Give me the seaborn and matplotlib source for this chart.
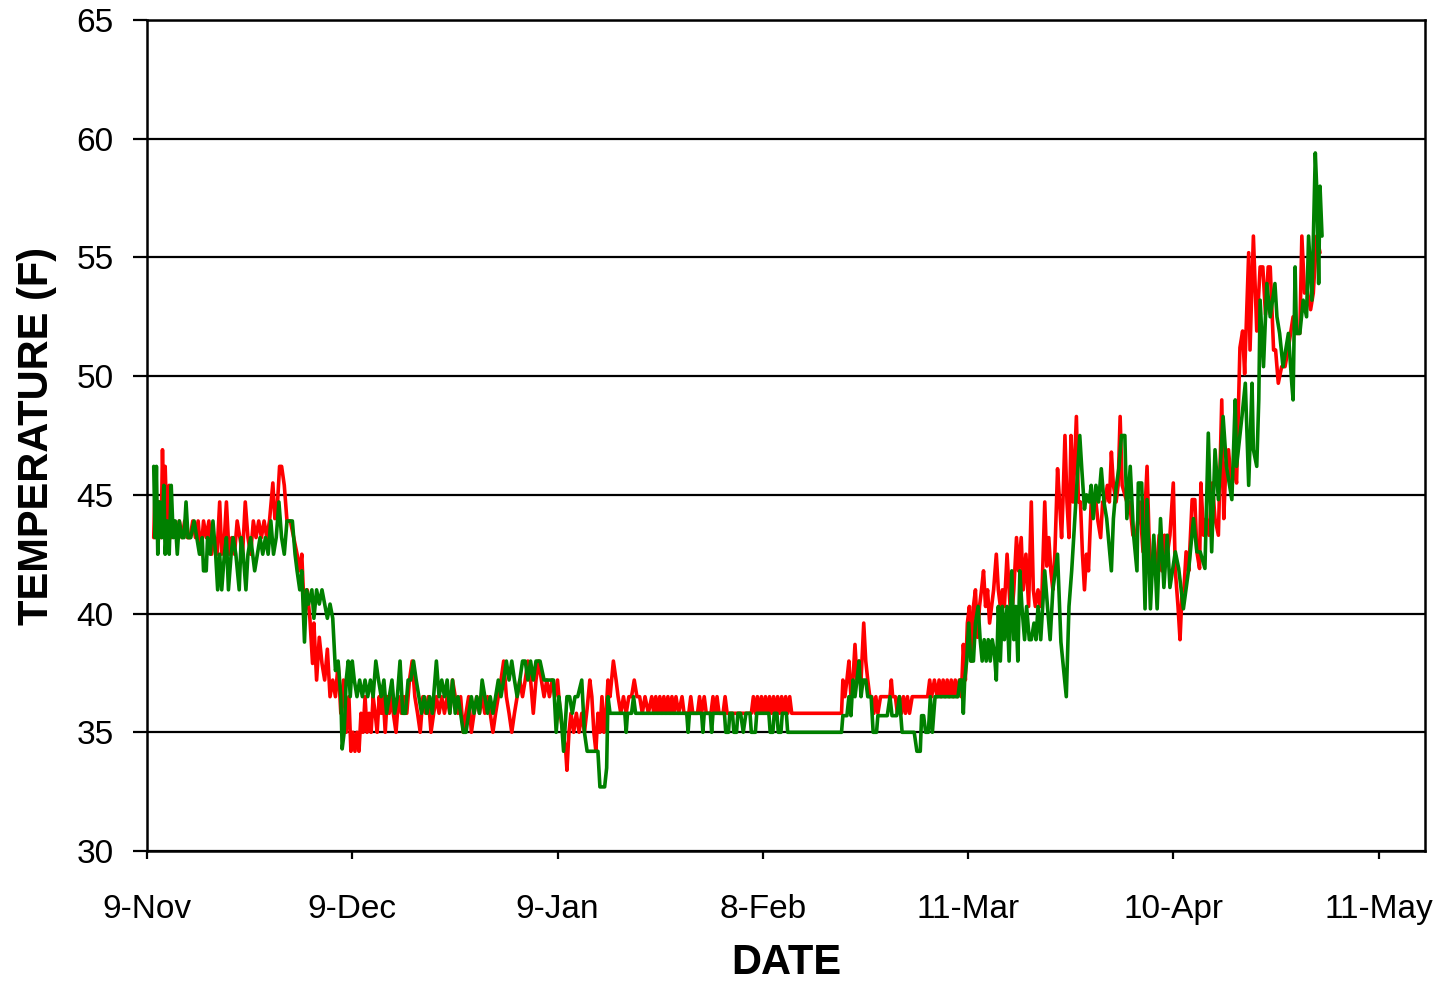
import seaborn as sns
import matplotlib.pyplot as plt
import pandas as pd

# readings as (days since 9-Nov, temperature F)
red_readings = [
    (1.0, 43.2), (1.2, 45.3), (1.5, 43.9), (1.8, 44.7), (2.1, 43.2), (2.3, 46.9), (2.5, 44.0), (2.7, 46.2),
    (3.0, 43.2), (3.3, 45.4), (3.6, 43.2), (4.0, 43.9), (4.4, 43.2), (4.8, 43.9), (5.2, 43.2), (5.6, 43.9),
    (6.0, 43.2), (6.4, 43.2), (6.8, 43.9), (7.2, 43.2), (7.6, 43.9), (8.0, 42.5), (8.4, 43.9), (8.8, 43.2),
    (9.2, 43.9), (9.6, 42.5), (10.0, 43.2), (10.4, 42.5), (10.8, 44.7), (11.1, 42.5), (11.5, 43.2), (11.8, 44.7),
    (12.2, 42.5), (12.6, 43.2), (13.0, 42.5), (13.4, 43.9), (13.8, 43.2), (14.2, 42.5), (14.6, 44.7), (15.0, 43.2),
    (15.4, 42.5), (15.8, 43.9), (16.2, 43.2), (16.6, 43.9), (17.0, 43.2), (17.4, 43.9), (17.8, 43.2), (18.2, 43.9),
    (18.7, 45.5), (19.0, 44.0), (19.4, 44.7), (19.7, 46.2), (20.0, 46.2), (20.4, 45.4), (20.8, 43.9), (21.3, 43.9),
    (21.8, 43.2), (22.3, 42.5), (22.7, 41.8), (23.0, 42.5), (23.4, 39.8), (23.8, 41.0), (24.2, 39.8), (24.6, 37.9),
    (24.8, 39.6), (25.2, 37.2), (25.6, 39.0), (26.0, 37.9), (26.4, 37.2), (26.8, 38.5), (27.2, 36.5), (27.6, 37.2),
    (28.0, 36.5), (28.4, 37.9), (28.8, 35.8), (29.2, 37.2), (29.6, 35.0), (30.0, 36.5), (30.3, 34.2), (30.6, 35.0),
    (30.9, 34.2), (31.2, 35.0), (31.5, 34.2), (31.8, 35.8), (32.1, 35.0), (32.4, 36.5), (32.7, 35.0), (33.0, 35.8),
    (33.3, 35.0), (33.6, 36.5), (33.9, 35.8), (34.2, 35.0), (34.5, 36.5), (34.8, 35.8), (35.1, 36.5), (35.4, 35.0),
    (35.7, 36.5), (36.0, 35.8), (36.3, 36.5), (36.6, 35.8), (37.0, 35.0), (37.4, 36.5), (37.8, 35.8), (38.2, 36.5),
    (38.6, 35.8), (39.0, 37.2), (39.4, 38.0), (39.8, 36.5), (40.2, 35.8), (40.6, 35.0), (41.0, 36.5), (41.4, 35.8),
    (41.8, 36.5), (42.2, 35.0), (42.6, 35.8), (43.0, 36.5), (43.4, 35.8), (43.8, 36.5), (44.2, 35.8), (44.6, 36.5),
    (45.0, 35.8), (45.4, 37.2), (45.8, 36.5), (46.2, 35.8), (46.6, 36.5), (47.0, 35.0), (47.4, 35.8), (47.8, 36.5),
    (48.2, 35.0), (48.6, 35.8), (49.0, 36.5), (49.4, 35.8), (49.8, 36.5), (50.2, 35.8), (50.6, 36.5), (51.0, 35.8),
    (51.4, 35.0), (51.8, 35.8), (52.2, 36.5), (52.6, 37.2), (53.0, 38.0), (53.4, 36.5), (53.8, 35.8), (54.2, 35.0),
    (54.6, 35.8), (55.0, 36.5), (55.4, 37.2), (55.8, 36.5), (56.2, 37.2), (56.6, 38.0), (57.0, 37.2), (57.4, 35.8),
    (57.8, 37.2), (58.2, 38.0), (58.6, 37.2), (59.0, 36.5), (59.4, 37.2), (59.8, 36.5), (60.2, 37.2), (60.6, 36.5),
    (61.0, 37.2), (61.4, 35.8), (61.8, 35.0), (62.2, 34.3), (62.4, 33.4), (62.7, 35.0), (63.0, 35.8), (63.4, 35.0),
    (63.8, 35.8), (64.2, 35.0), (64.6, 35.8), (65.0, 35.0), (65.4, 36.0), (65.8, 37.2), (66.1, 36.5), (66.4, 35.0),
    (66.7, 34.2), (67.0, 35.8), (67.3, 35.0), (67.6, 36.5), (67.9, 35.0), (68.2, 35.8), (68.5, 37.2), (68.8, 36.5),
    (69.3, 38.0), (69.7, 37.2), (70.0, 36.5), (70.4, 35.8), (70.8, 36.5), (71.2, 35.8), (71.6, 36.5), (72.0, 36.5),
    (72.4, 37.2), (72.8, 36.5), (73.2, 36.5), (73.6, 35.8), (74.0, 36.5), (74.5, 35.8), (75.0, 36.5), (75.3, 35.8),
    (75.6, 36.5), (75.9, 35.8), (76.2, 36.5), (76.5, 35.8), (76.8, 36.5), (77.1, 35.8), (77.4, 36.5), (77.7, 35.8),
    (78.0, 36.5), (78.3, 35.8), (78.6, 36.5), (79.0, 35.8), (79.5, 36.5), (79.8, 35.8), (80.5, 35.8), (80.8, 36.5),
    (81.1, 35.8), (81.8, 35.8), (82.1, 36.5), (82.4, 35.8), (82.8, 36.5), (83.1, 35.8), (83.8, 35.8), (84.1, 36.5),
    (84.4, 35.8), (84.7, 36.5), (85.0, 35.8), (85.6, 35.8), (85.9, 36.5), (86.2, 35.8), (87.5, 35.8), (89.8, 35.8),
    (90.1, 36.5), (90.4, 35.8), (90.7, 36.5), (91.0, 35.8), (91.3, 36.5), (91.6, 35.8), (91.9, 36.5), (92.2, 35.8),
    (92.5, 36.5), (92.8, 35.8), (93.1, 36.5), (93.4, 35.8), (93.7, 36.5), (94.0, 35.8), (94.3, 36.5), (94.6, 35.8),
    (94.9, 36.5), (95.2, 35.8), (95.5, 36.5), (95.8, 35.8), (103.2, 35.8), (103.4, 37.2), (103.7, 36.5), (104.0, 37.2),
    (104.3, 38.0), (104.6, 36.5), (104.9, 37.2), (105.2, 38.7), (105.5, 37.2), (105.8, 38.0), (106.1, 37.2), (106.5, 39.6),
    (106.8, 38.0), (107.1, 37.2), (107.4, 36.5), (107.7, 36.5), (108.0, 35.8), (108.3, 36.5), (108.6, 35.8), (109.0, 36.5),
    (110.4, 36.5), (110.6, 37.2), (110.8, 36.5), (111.2, 36.5), (111.5, 35.8), (111.8, 36.5), (112.1, 35.8), (112.4, 36.5),
    (112.7, 35.8), (113.0, 36.5), (113.3, 35.8), (113.7, 36.5), (116.0, 36.5), (116.3, 37.2), (116.6, 36.5), (117.0, 37.2),
    (117.4, 36.5), (117.7, 37.2), (118.0, 36.5), (118.3, 37.2), (118.6, 36.5), (118.9, 37.2), (119.2, 36.5), (119.5, 37.2),
    (119.8, 36.5), (120.1, 37.2), (120.4, 36.5), (120.7, 37.2), (121.0, 36.5), (121.3, 38.7), (121.6, 37.2), (121.9, 39.6),
    (122.2, 40.3), (122.5, 38.0), (122.8, 40.3), (123.1, 41.0), (123.4, 39.0), (123.7, 40.3), (124.0, 41.0), (124.3, 41.8),
    (124.6, 40.3), (124.9, 41.0), (125.2, 39.6), (125.5, 40.3), (125.8, 41.0), (126.2, 42.5), (126.5, 41.0), (126.8, 40.3),
    (127.1, 41.0), (127.4, 40.3), (127.8, 42.5), (128.1, 41.0), (128.4, 39.6), (128.8, 41.0), (129.2, 43.2), (129.5, 41.8),
    (129.9, 43.2), (130.2, 41.0), (130.6, 42.5), (131.0, 40.3), (131.4, 44.7), (131.7, 41.0), (132.0, 40.3), (132.4, 41.0),
    (132.7, 40.3), (133.0, 41.0), (133.4, 44.7), (133.7, 42.0), (134.0, 43.2), (134.3, 41.8), (134.6, 41.0), (134.9, 42.5),
    (135.3, 46.1), (135.6, 44.7), (135.9, 43.2), (136.1, 44.7), (136.4, 47.5), (136.7, 44.7), (137.0, 43.2), (137.3, 47.5),
    (137.6, 44.7), (138.1, 48.3), (138.4, 44.7), (138.7, 44.7), (139.0, 42.5), (139.3, 41.0), (139.6, 42.5), (139.9, 41.8),
    (140.3, 44.7), (140.6, 45.0), (141.0, 44.7), (141.3, 43.9), (141.7, 43.2), (142.0, 44.7), (142.3, 44.7), (142.7, 45.4),
    (143.0, 44.7), (143.3, 46.8), (143.6, 45.4), (144.0, 44.7), (144.3, 45.4), (144.6, 48.3), (144.9, 45.4), (145.3, 45.0),
    (145.6, 44.7), (146.0, 44.7), (146.5, 43.3), (147.0, 43.3), (147.5, 44.7), (148.0, 42.6), (148.6, 46.2), (148.9, 43.2),
    (149.2, 41.8), (149.6, 42.5), (150.0, 41.8), (150.4, 43.3), (150.8, 41.8), (151.2, 43.3), (151.6, 42.5), (152.0, 43.3),
    (152.5, 45.5), (152.8, 41.8), (153.2, 40.3), (153.5, 38.9), (153.8, 40.9), (154.1, 41.1), (154.4, 42.6), (154.8, 41.8),
    (155.3, 44.8), (155.7, 44.8), (156.0, 42.6), (156.4, 41.9), (156.6, 45.5), (157.0, 43.3), (157.4, 44.0), (157.8, 43.3),
    (158.3, 45.5), (158.7, 44.0), (159.2, 43.3), (159.7, 49.0), (160.0, 44.0), (160.3, 46.2), (160.7, 46.9), (161.1, 45.5),
    (161.5, 46.2), (161.9, 45.5), (162.4, 51.2), (162.8, 51.9), (163.1, 50.1), (163.4, 52.6), (163.7, 55.2), (163.9, 51.1),
    (164.4, 55.9), (164.9, 51.9), (165.4, 54.6), (165.8, 54.6), (166.2, 52.6), (166.6, 54.6), (166.9, 54.6), (167.4, 51.1),
    (167.7, 51.1), (168.1, 49.7), (168.6, 50.4), (169.1, 50.4), (169.6, 51.2), (170.3, 52.5), (170.8, 51.8), (171.3, 51.8),
    (171.6, 55.9), (172.0, 53.5), (172.4, 53.6), (172.9, 52.8), (173.3, 53.5), (173.8, 55.9), (174.3, 55.2),
]

green_readings = [
    (1.0, 46.2), (1.2, 43.2), (1.4, 46.2), (1.6, 42.5), (1.9, 44.7), (2.2, 43.2), (2.5, 45.4), (2.7, 42.5),
    (3.0, 43.9), (3.3, 42.5), (3.6, 45.4), (3.9, 43.2), (4.2, 43.9), (4.5, 42.5), (4.8, 43.9), (5.2, 43.2),
    (5.5, 43.2), (5.8, 44.7), (6.1, 43.2), (6.5, 43.2), (7.0, 43.9), (7.4, 43.2), (7.8, 42.5), (8.2, 43.2),
    (8.4, 41.8), (8.8, 41.8), (9.0, 43.2), (9.4, 42.5), (9.8, 43.9), (10.2, 42.5), (10.5, 41.0), (10.8, 42.5),
    (11.1, 41.0), (11.5, 42.5), (11.8, 43.2), (12.1, 41.0), (12.5, 42.5), (12.8, 43.2), (13.2, 42.5), (13.7, 41.0),
    (14.0, 43.2), (14.3, 42.5), (14.7, 41.0), (15.0, 42.5), (15.4, 43.2), (15.7, 42.5), (16.0, 41.8), (16.4, 42.5),
    (16.8, 43.2), (17.2, 42.5), (17.6, 43.2), (18.0, 42.5), (18.4, 43.9), (18.8, 42.5), (19.2, 43.2), (19.6, 44.7),
    (20.0, 43.2), (20.4, 42.5), (20.8, 43.9), (21.2, 43.9), (21.6, 43.9), (22.0, 42.5), (22.3, 41.8), (22.7, 41.0),
    (23.0, 41.8), (23.4, 38.8), (23.7, 41.0), (24.0, 40.4), (24.5, 41.0), (24.8, 39.8), (25.2, 41.0), (25.6, 40.4),
    (26.0, 41.0), (26.4, 40.4), (26.8, 39.8), (27.2, 40.4), (27.6, 39.8), (28.0, 37.6), (28.4, 38.0), (28.8, 36.5),
    (29.0, 34.3), (29.3, 35.0), (29.6, 37.2), (29.9, 38.0), (30.2, 36.5), (30.5, 38.0), (30.8, 37.2), (31.2, 36.5),
    (31.6, 37.2), (32.0, 36.5), (32.4, 37.2), (32.8, 36.5), (33.2, 37.2), (33.6, 36.5), (34.0, 38.0), (34.4, 37.2),
    (34.8, 36.5), (35.2, 37.2), (35.6, 35.8), (36.0, 36.5), (36.4, 37.2), (36.8, 35.8), (37.2, 36.5), (37.6, 38.0),
    (38.0, 35.8), (38.4, 35.8), (38.8, 37.2), (39.2, 37.2), (39.6, 38.0), (40.0, 37.2), (40.4, 36.5), (40.8, 35.8),
    (41.2, 36.5), (41.6, 35.8), (42.0, 36.5), (42.4, 35.8), (43.0, 38.0), (43.4, 36.5), (43.8, 37.2), (44.2, 36.5),
    (44.6, 37.2), (45.0, 35.8), (45.4, 37.2), (45.8, 35.8), (46.2, 36.5), (46.6, 35.8), (47.0, 35.0), (47.4, 35.0),
    (47.8, 35.8), (48.2, 36.5), (48.6, 35.8), (49.0, 36.5), (49.4, 35.8), (49.8, 37.2), (50.2, 36.5), (50.6, 35.8),
    (51.0, 36.5), (51.4, 35.8), (51.8, 36.5), (52.2, 37.2), (52.6, 36.5), (53.0, 37.2), (53.4, 38.0), (53.8, 37.2),
    (54.2, 38.0), (54.6, 37.2), (55.0, 36.5), (55.4, 37.2), (55.8, 38.0), (56.2, 38.0), (56.6, 37.2), (57.0, 38.0),
    (57.4, 37.2), (57.8, 38.0), (58.4, 38.0), (59.0, 37.2), (60.4, 37.2), (60.8, 35.0), (61.2, 36.5), (61.5, 35.8),
    (61.9, 34.2), (62.4, 36.5), (62.8, 36.5), (63.2, 35.8), (63.6, 36.5), (64.0, 36.5), (64.6, 37.2), (65.0, 35.0),
    (65.4, 34.2), (67.0, 34.2), (67.3, 32.7), (68.0, 32.7), (68.3, 33.5), (68.5, 36.5), (68.8, 35.8), (71.0, 35.8),
    (71.2, 35.0), (71.4, 35.8), (72.0, 35.8), (72.3, 36.5), (72.6, 35.8), (80.2, 35.8), (80.4, 35.0), (80.6, 35.8),
    (82.4, 35.8), (82.6, 35.0), (82.8, 35.8), (83.7, 35.8), (83.9, 35.0), (84.1, 35.8), (85.8, 35.8), (86.0, 35.0),
    (86.4, 35.0), (86.6, 35.8), (87.0, 35.8), (87.2, 35.0), (87.6, 35.0), (87.8, 35.8), (88.2, 35.8), (88.6, 35.0),
    (89.0, 35.8), (89.6, 35.8), (89.8, 35.0), (90.4, 35.0), (90.6, 35.8), (92.4, 35.8), (92.6, 35.0), (93.0, 35.0),
    (93.2, 35.8), (93.6, 35.8), (93.8, 35.0), (94.2, 35.0), (94.4, 35.8), (95.0, 35.8), (95.2, 35.0), (103.2, 35.0),
    (103.4, 35.7), (104.0, 35.7), (104.3, 36.5), (104.6, 35.7), (104.9, 37.2), (105.2, 36.5), (105.5, 37.2), (105.8, 38.0),
    (106.1, 36.5), (106.4, 37.2), (106.8, 37.2), (107.1, 36.5), (107.6, 36.5), (107.9, 35.0), (108.4, 35.0), (108.6, 35.7),
    (110.0, 35.7), (110.4, 36.5), (110.7, 35.7), (111.4, 35.7), (111.8, 36.5), (112.2, 35.0), (114.0, 35.0), (114.4, 34.2),
    (114.9, 34.2), (115.1, 35.7), (115.4, 35.7), (115.7, 35.0), (116.1, 35.0), (116.4, 36.5), (116.7, 35.0), (117.1, 36.5),
    (120.5, 36.5), (120.8, 37.2), (121.1, 37.2), (121.3, 35.8), (121.5, 37.2), (121.8, 38.0), (122.1, 39.6), (122.4, 38.0),
    (122.8, 38.0), (123.1, 39.6), (123.5, 40.3), (123.8, 38.9), (124.1, 38.0), (124.4, 38.9), (124.7, 38.0), (125.0, 38.9),
    (125.3, 38.0), (125.6, 38.9), (125.9, 38.4), (126.2, 37.2), (126.5, 40.3), (126.8, 38.0), (127.1, 40.3), (127.4, 38.9),
    (127.8, 40.3), (128.1, 38.0), (128.5, 41.8), (128.8, 38.9), (129.1, 40.3), (129.4, 38.0), (129.7, 41.8), (130.0, 40.3),
    (130.4, 38.9), (130.7, 40.3), (131.1, 38.9), (131.4, 38.9), (131.8, 39.6), (132.1, 38.9), (132.4, 40.3), (132.8, 38.9),
    (133.4, 41.8), (133.8, 40.3), (134.2, 38.9), (134.6, 41.0), (135.3, 42.5), (135.8, 38.8), (136.6, 36.5), (137.0, 40.3),
    (137.4, 41.8), (137.7, 43.2), (138.3, 46.1), (138.6, 47.5), (138.9, 46.1), (139.3, 44.4), (139.6, 45.0), (140.0, 44.7),
    (140.3, 45.4), (140.6, 44.0), (141.0, 45.4), (141.4, 44.7), (141.8, 46.1), (142.2, 44.7), (142.6, 44.0), (143.3, 41.8),
    (143.6, 44.0), (144.0, 45.3), (144.4, 46.1), (144.8, 47.5), (145.3, 47.5), (145.6, 44.0), (146.1, 46.2), (146.6, 43.3),
    (147.1, 41.8), (147.3, 45.5), (147.8, 45.5), (148.3, 40.2), (148.6, 44.8), (149.1, 40.2), (149.6, 43.3), (150.1, 40.2),
    (150.6, 44.0), (151.1, 41.1), (151.6, 43.3), (152.0, 41.1), (152.8, 42.6), (153.3, 41.9), (154.0, 40.2), (154.8, 41.9),
    (155.5, 44.0), (156.0, 42.6), (156.5, 42.6), (157.2, 41.9), (157.7, 47.6), (158.2, 42.6), (158.7, 46.9), (159.2, 44.8),
    (159.9, 48.3), (160.4, 46.2), (161.2, 44.8), (161.7, 49.0), (161.9, 46.2), (162.7, 48.3), (163.2, 49.7), (163.7, 45.4),
    (164.2, 49.7), (164.4, 46.9), (164.9, 46.2), (165.2, 49.0), (165.4, 53.2), (165.9, 50.4), (166.4, 53.9), (166.9, 52.5),
    (167.6, 53.9), (167.9, 52.5), (168.3, 51.8), (168.8, 50.4), (169.6, 51.8), (170.1, 49.7), (170.3, 49.0), (170.6, 54.6),
    (170.8, 51.8), (171.3, 51.8), (171.8, 53.2), (172.3, 52.5), (172.6, 55.9), (173.1, 53.2), (173.6, 59.4), (173.8, 58.0),
    (174.1, 53.9), (174.3, 58.0), (174.6, 55.9),
]

tick_labels = ["9-Nov", "9-Dec", "9-Jan", "8-Feb", "11-Mar", "10-Apr", "11-May"]
tick_days = [0, 30.5, 61, 91.5, 122, 152.5, 183]

frames = []
for name, readings in [("red", red_readings), ("green", green_readings)]:
    df = pd.DataFrame(readings, columns=["day", "temp"])
    df["series"] = name
    frames.append(df)
data = pd.concat(frames, ignore_index=True)

sns.set_style("white")
plt.rcParams["font.family"] = ["Liberation Sans", "DejaVu Sans"]
plt.rcParams["text.color"] = "black"
plt.rcParams["axes.labelcolor"] = "black"

fig = plt.figure(figsize=(14.42, 9.84), dpi=100)
ax = fig.add_axes([147 / 1442, 1 - 851 / 984, (1425 - 147) / 1442, (851 - 20) / 984])

sns.lineplot(data=data, x="day", y="temp", hue="series", hue_order=["red", "green"],
             palette={"red": "#ff0000", "green": "#008000"}, estimator=None, sort=False,
             linewidth=2.6, legend=False, ax=ax)

ax.set_xlim(0, 189.9)
ax.set_ylim(30, 65)
ax.set_yticks(range(30, 66, 5))
ax.set_xticks(tick_days)
ax.set_xticklabels(tick_labels)
ax.grid(axis="y", color="black", linewidth=1.6)
ax.grid(axis="x", visible=False)
ax.set_axisbelow(True)
for s in ax.spines.values():
    s.set_color("black")
    s.set_linewidth(1.8)

ax.tick_params(axis="y", which="major", direction="out", length=10, width=1.6, pad=14,
               labelsize=24, colors="black", left=True)
ax.tick_params(axis="x", which="major", direction="out", length=6, width=1.6, pad=25,
               labelsize=24, colors="black", bottom=True)

ax.set_xlabel("DATE", fontsize=30, fontweight="bold", labelpad=13)
ax.set_ylabel("TEMPERATURE (F)", fontsize=30, fontweight="bold", labelpad=14)

fig.savefig("out.png", dpi=100)
